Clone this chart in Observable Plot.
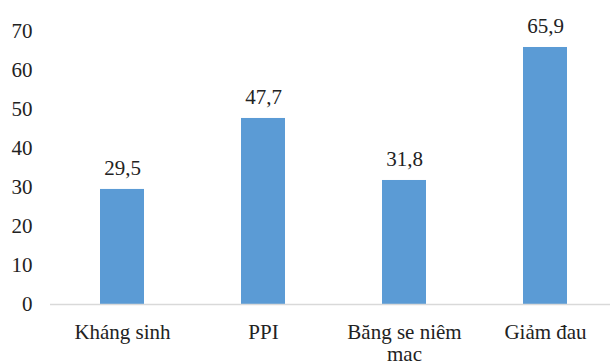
<!DOCTYPE html>
<html>
<head>
<meta charset="utf-8">
<script src="https://cdn.jsdelivr.net/npm/d3@7"></script>
<script src="https://cdn.jsdelivr.net/npm/@observablehq/plot@0.6"></script>
<style>
  html, body { margin: 0; padding: 0; background: #fff; }
  #chart svg { display: block; }
  #chart svg text { font-family: 'Liberation Serif', 'DejaVu Serif', serif !important; }
</style>
</head>
<body>
<div id="chart"></div>
<script>
const categories = ["Kháng sinh", "PPI", "Băng se niêm\nmac", "Giảm đau"];
const values = [29.5, 47.7, 31.8, 65.9];
const yTicks = [0, 10, 20, 30, 40, 50, 60, 70];

const data = categories.map((c, i) => ({ category: c, value: values[i] }));
const fmt = v => v.toFixed(1).replace(".", ",");
const serif = "'Liberation Serif', 'DejaVu Serif', serif";

const chart = Plot.plot({
  width: 610,
  height: 363,
  marginTop: 31,
  marginBottom: 59,
  marginLeft: 50,
  marginRight: 0,
  style: { fontFamily: serif, fontSize: "21px", color: "#222", background: "#fff" },
  x: { domain: categories, range: [51, 615], paddingInner: 0.69, paddingOuter: 0.345, label: null },
  y: { domain: [0, 70], ticks: yTicks, label: null },
  marks: [
    Plot.barY(data, { x: "category", y: "value", fill: "#5B9BD5" }),
    Plot.ruleY([0], { stroke: "#d9d9d9", strokeWidth: 1.5 }),
    Plot.text(data, { x: "category", y: "value", text: d => fmt(d.value), lineAnchor: "bottom", dy: -14, fontSize: 21, fontFamily: serif, fill: "#222" }),
    Plot.axisY({ ticks: yTicks, tickSize: 0, tickPadding: 18, label: null, fontSize: 21, fontFamily: serif }),
    Plot.axisX({ tickSize: 0, tickPadding: 18, label: null, fontSize: 21, fontFamily: serif, lineHeight: 1.08 })
  ]
});
document.getElementById("chart").appendChild(chart);
</script>
</body>
</html>
